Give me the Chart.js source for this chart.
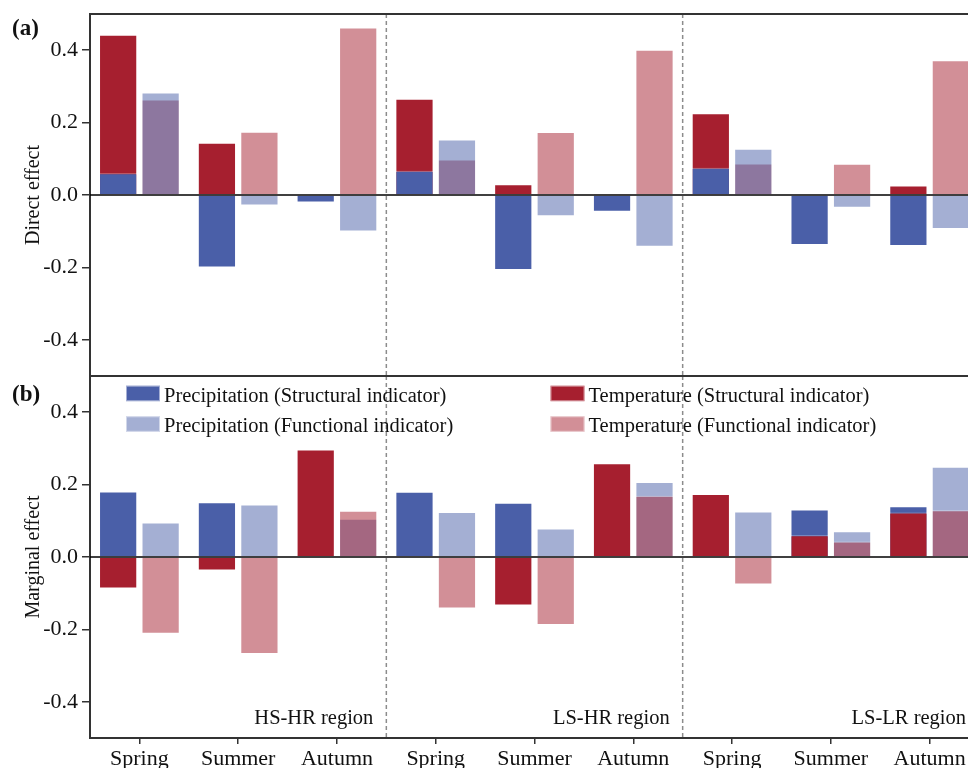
<!DOCTYPE html>
<html><head><meta charset="utf-8">
<script src="https://cdn.jsdelivr.net/npm/chart.js@4"></script>
<style>
html,body{margin:0;padding:0;background:#fff;overflow:hidden;width:968px;height:768px;}
#ca{position:absolute;left:0;top:0;}
#cb{position:absolute;left:0;top:368px;}
</style></head><body>
<canvas id="ca" width="979" height="376"></canvas>
<canvas id="cb" width="979" height="400"></canvas>
<script>
// ---------------- data ----------------
const seasons = ['Spring', 'Summer', 'Autumn'];
const regions = ['HS-HR region', 'LS-HR region', 'LS-LR region'];
const categories = [].concat(...regions.map(() => seasons));
const yTicks = [-0.4, -0.2, 0.0, 0.2, 0.4];
const seriesLabels = ['Precipitation (Structural indicator)', 'Temperature (Structural indicator)',
                      'Precipitation (Functional indicator)', 'Temperature (Functional indicator)'];

// (a) Direct effect
const precipStructDirect = [0.060, -0.200, -0.021, 0.067, -0.207, -0.046, 0.075, -0.138, -0.141];
const tempStructDirect   = [0.443,  0.144,  0.000, 0.266,  0.030,  0.004, 0.226,  0.000,  0.026];
const precipFuncDirect   = [0.283, -0.029, -0.101, 0.153, -0.059, -0.143, 0.128, -0.035, -0.094];
const tempFuncDirect     = [0.264,  0.175,  0.463, 0.098,  0.174,  0.401, 0.087,  0.086,  0.372];

// (b) Marginal effect
const precipStructMarginal = [0.181,  0.151, 0.000, 0.180,  0.150, 0.000, 0.000, 0.131, 0.140];
const tempStructMarginal   = [-0.087, -0.037, 0.297, 0.000, -0.134, 0.259, 0.174, 0.060, 0.123];
const precipFuncMarginal   = [0.095,  0.145, 0.106, 0.124,  0.079, 0.207, 0.126, 0.071, 0.249];
const tempFuncMarginal     = [-0.212, -0.268, 0.128, -0.142, -0.188, 0.169, -0.076, 0.043, 0.129];

// ---------------- style ----------------
const FONT = "'Liberation Serif','Times New Roman',Times,serif";
const BLUE = 'rgb(74,95,168)';
const RED = 'rgb(166,31,47)';
const BLUE_L = 'rgba(74,95,168,0.5)';
const RED_L = 'rgba(166,31,47,0.5)';
const INK = '#111';
const AXIS = '#333';

function makeDatasets(ps, ts, pf, tf, precipOnTop) {
  const pO = precipOnTop ? 0 : 1, tO = precipOnTop ? 1 : 0;
  return [
    {label: seriesLabels[0], data: ps, backgroundColor: BLUE, stack: 's', order: pO},
    {label: seriesLabels[1], data: ts, backgroundColor: RED, stack: 's', order: tO},
    {label: seriesLabels[2], data: pf, backgroundColor: BLUE_L, stack: 'f', order: pO},
    {label: seriesLabels[3], data: tf, backgroundColor: RED_L, stack: 'f', order: tO}
  ].map(d => Object.assign(d, {
    borderColor: 'rgba(255,255,255,0.45)', borderWidth: 1, borderSkipped: 'start',
    categoryPercentage: 0.86, barPercentage: 0.9
  }));
}

const overlay = {
  id: 'overlay',
  afterDatasetsDraw(chart, args, opts) {
    const {ctx, chartArea: a, scales: {x, y}} = chart;
    ctx.save();
    // zero line
    const y0 = y.getPixelForValue(0);
    ctx.strokeStyle = '#000'; ctx.lineWidth = 1.6;
    ctx.beginPath(); ctx.moveTo(a.left, y0); ctx.lineTo(a.right, y0); ctx.stroke();
    // region separators
    ctx.strokeStyle = '#8c8c8c'; ctx.lineWidth = 1.5; ctx.setLineDash([4, 3]);
    for (let r = 1; r < regions.length; r++) {
      const xp = x.getPixelForValue(r * seasons.length - 0.5);
      ctx.beginPath(); ctx.moveTo(xp, a.top); ctx.lineTo(xp, a.bottom); ctx.stroke();
    }
    ctx.setLineDash([]);
    // top frame line
    ctx.strokeStyle = AXIS; ctx.lineWidth = 2;
    ctx.beginPath(); ctx.moveTo(a.left - 1, a.top); ctx.lineTo(a.right, a.top); ctx.stroke();
    // panel letter
    ctx.fillStyle = INK;
    ctx.font = 'bold 23px ' + FONT;
    ctx.textAlign = 'left'; ctx.textBaseline = 'middle';
    ctx.fillText(opts.letter, 12, a.top + opts.letterDy);
    // region labels
    if (opts.regions) {
      ctx.font = '20.5px ' + FONT;
      ctx.textAlign = 'right'; ctx.textBaseline = 'alphabetic';
      for (let r = 0; r < regions.length; r++) {
        const xp = x.getPixelForValue((r + 1) * seasons.length - 0.5);
        ctx.fillText(regions[r], xp - 13, a.bottom - 14);
      }
    }
    // legend
    if (opts.legend) {
      const ds = chart.data.datasets;
      const cols = [a.left + 36, a.left + 460.5];
      const rows = [a.top + 9.7, a.top + 40.3];
      const layout = [[0, 0, 0], [2, 0, 1], [1, 1, 0], [3, 1, 1]];
      ctx.font = '20.5px ' + FONT;
      ctx.textAlign = 'left'; ctx.textBaseline = 'alphabetic';
      for (const [di, c, r] of layout) {
        const sx = cols[c], sy = rows[r];
        ctx.fillStyle = ds[di].backgroundColor;
        ctx.fillRect(sx, sy, 34, 15.5);
        ctx.strokeStyle = 'rgba(255,255,255,0.5)'; ctx.lineWidth = 1;
        ctx.strokeRect(sx + 0.5, sy + 0.5, 33, 14.5);
        ctx.fillStyle = INK;
        ctx.fillText(ds[di].label, sx + 38, sy + 16);
      }
    }
    ctx.restore();
  }
};

function makeChart(id, datasets, title, showX, padTop, opts) {
  return new Chart(document.getElementById(id), {
    type: 'bar',
    data: {labels: categories, datasets},
    plugins: [overlay],
    options: {
      responsive: false, animation: false, devicePixelRatio: 1,
      layout: {padding: {top: padTop, left: 0, right: 0, bottom: 0}},
      plugins: {legend: {display: false}, tooltip: {enabled: false}, overlay: opts},
      scales: {
        x: {
          type: 'category', stacked: true, offset: true, display: showX,
          grid: {drawOnChartArea: false, offset: false, drawTicks: true, tickLength: 6, lineWidth: 1.5, tickWidth: 1.5, tickColor: AXIS},
          border: {display: true, color: AXIS, width: 2},
          ticks: {font: {family: FONT, size: 22}, color: INK, padding: 2, maxRotation: 0, autoSkip: false},
          afterFit(s) { if (showX) { s.height = 30; } else { s.height = 0; } s.paddingLeft = 0; s.paddingRight = 0; }
        },
        y: {
          min: -0.5, max: 0.5, stacked: false,
          afterBuildTicks(s) { s.ticks = yTicks.map(v => ({value: v})); },
          ticks: {callback: v => Number(v).toFixed(1), font: {family: FONT, size: 22}, color: INK, padding: 4},
          grid: {drawOnChartArea: false, drawTicks: true, tickLength: 8, lineWidth: 1.5, tickWidth: 1.5, tickColor: AXIS},
          border: {display: true, color: AXIS, width: 2},
          title: {display: true, text: title, font: {family: FONT, size: 20}, color: INK, padding: {top: 22, bottom: 0}},
          afterFit(s) { s.width = 90; s.paddingTop = 0; s.paddingBottom = 0; }
        }
      }
    }
  });
}

makeChart('ca', makeDatasets(precipStructDirect, tempStructDirect, precipFuncDirect, tempFuncDirect, true),
  'Direct effect', false, 14, {letter: '(a)', letterDy: 15, regions: false, legend: false});
makeChart('cb', makeDatasets(precipStructMarginal, tempStructMarginal, precipFuncMarginal, tempFuncMarginal, false),
  'Marginal effect', true, 8, {letter: '(b)', letterDy: 19.5, regions: true, legend: true});
</script>
</body></html>
